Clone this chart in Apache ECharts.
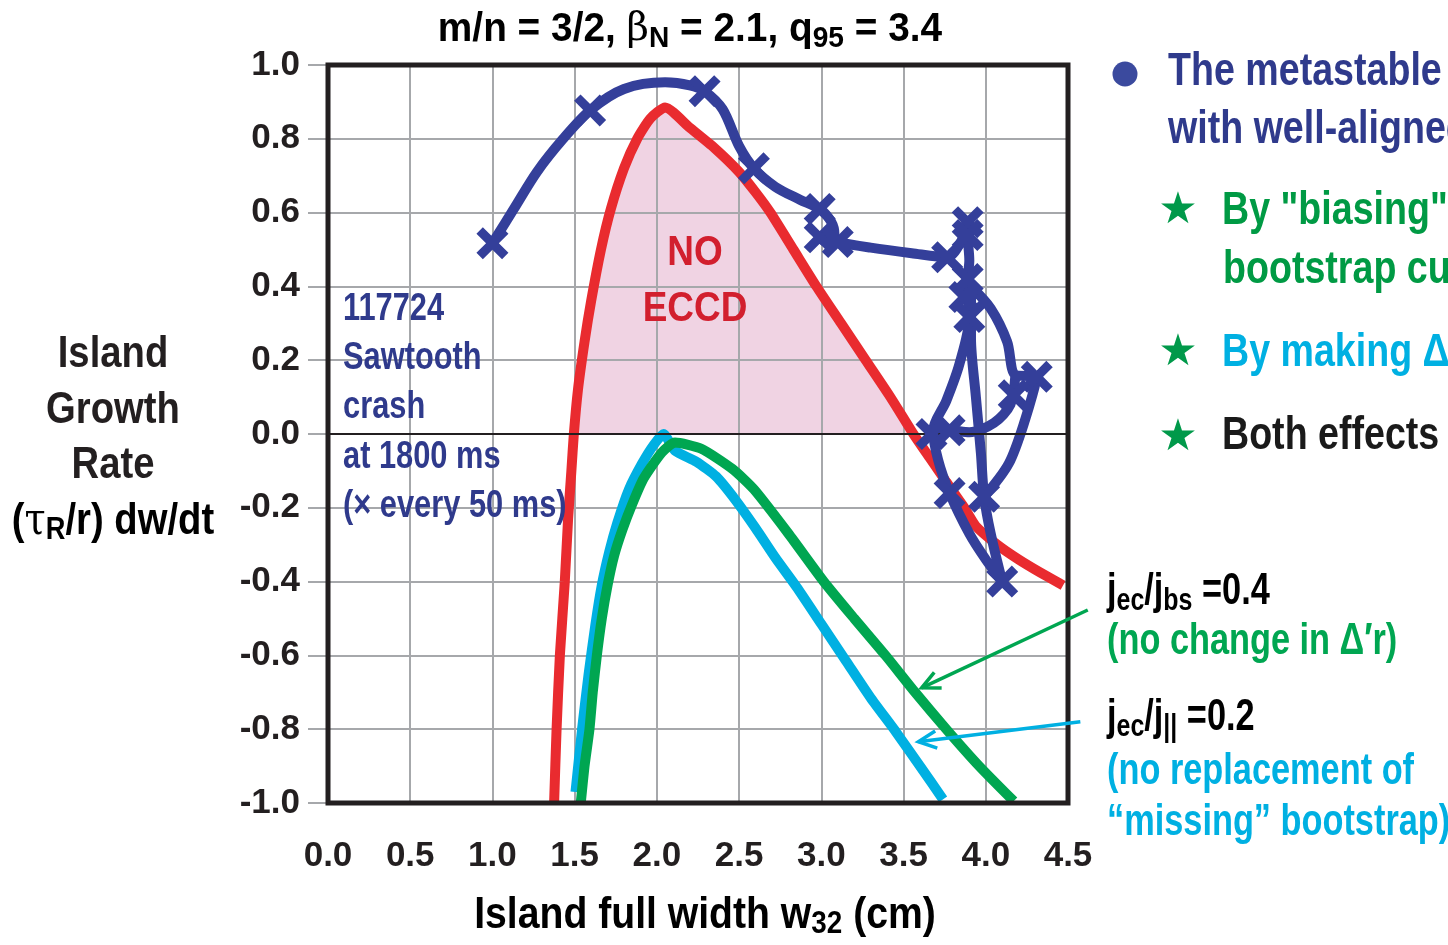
<!DOCTYPE html>
<html><head><meta charset="utf-8">
<script src="https://cdn.jsdelivr.net/npm/echarts@6.0.0/dist/echarts.min.js"></script>
<style>html,body{margin:0;padding:0;background:#fff;overflow:hidden}#chart{width:1448px;height:945px}</style>
</head><body><div id="chart"></div>
<script>
// ---------------- data ----------------
const xTicks = [0, 0.5, 1, 1.5, 2, 2.5, 3, 3.5, 4, 4.5];
const yTicks = [-1, -0.8, -0.6, -0.4, -0.2, 0, 0.2, 0.4, 0.6, 0.8, 1];

// red: no ECCD
const noEccd = [[1.375,-1.0],[1.39,-0.8],[1.41,-0.6],[1.44,-0.4],[1.46,-0.23],[1.48,-0.1],[1.495,0.0],[1.52,0.12],[1.56,0.25],[1.60,0.36],[1.66,0.5],[1.72,0.61],[1.80,0.72],[1.88,0.8],[1.96,0.855],[2.05,0.885],[2.2,0.83],[2.35,0.775],[2.5,0.71],[2.6,0.655],[2.69,0.6],[2.83,0.5],[2.97,0.4],[3.12,0.3],[3.27,0.2],[3.42,0.1],[3.56,0.0],[3.66,-0.065],[3.76,-0.13],[3.87,-0.2],[3.94,-0.25],[4.07,-0.3],[4.2,-0.34],[4.33,-0.375],[4.47,-0.41]];

// green: jec/jbs = 0.4
const jecBs04 = [[1.537,-1.0],[1.56,-0.9],[1.59,-0.8],[1.61,-0.7],[1.635,-0.6],[1.665,-0.5],[1.70,-0.41],[1.74,-0.33],[1.79,-0.26],[1.85,-0.19],[1.92,-0.12],[2.03,-0.05],[2.11,-0.023],[2.27,-0.04],[2.46,-0.095],[2.59,-0.15],[2.8,-0.27],[3.015,-0.4],[3.2,-0.5],[3.39,-0.6],[3.57,-0.7],[3.76,-0.8],[3.96,-0.9],[4.17,-0.995]];

// cyan: jec/j|| = 0.2
const jecPar02 = [[1.505,-0.97],[1.545,-0.8],[1.585,-0.65],[1.625,-0.52],[1.665,-0.41],[1.71,-0.32],[1.76,-0.24],[1.83,-0.15],[1.91,-0.08],[1.98,-0.03],[2.04,0.0],[2.11,-0.045],[2.24,-0.075],[2.36,-0.115],[2.48,-0.18],[2.6,-0.255],[2.72,-0.335],[2.85,-0.415],[3.0,-0.515],[3.15,-0.615],[3.3,-0.715],[3.45,-0.805],[3.6,-0.9],[3.74,-0.99]];

// blue: shot 117724 trajectory ('-' = break)
const shotTrack = [[1.0,0.517],[1.13,0.61],[1.27,0.71],[1.43,0.8],[1.594,0.877],[1.8,0.935],[2.05,0.953],[2.2,0.945],[2.29,0.929],[2.4,0.88],[2.5,0.78],[2.59,0.72],[2.72,0.67],[2.87,0.635],[2.99,0.61],[3.06,0.575],[3.08,0.54],[3.03,0.52],[2.99,0.533],[3.04,0.53],[3.1,0.52],[3.3,0.505],[3.55,0.49],[3.765,0.479],[3.86,0.53],[3.89,0.574],[3.89,0.539],[3.9,0.47],[3.89,0.42],[3.89,0.371],[3.9,0.317],[3.84,0.19],[3.76,0.09],[3.68,0.01],[3.71,-0.07],[3.78,-0.16],[3.9,-0.27],[4.0,-0.34],[4.1,-0.40],[4.03,-0.27],[3.99,-0.17],[3.97,-0.05],[3.94,0.1],[3.91,0.26],[3.91,0.4],[4.03,0.34],[4.13,0.25],[4.18,0.16],[4.31,0.155],[4.24,0.04],[4.14,-0.08],[3.99,-0.17],['-','-'],[4.18,0.16],[4.15,0.08],[4.05,0.03],[3.9,0.005],[3.78,0.01],[3.67,0.0]];
// blue: samples every 50 ms
const shotSamples = [[1.0,0.517],[1.594,0.877],[2.29,0.929],[2.59,0.72],[2.99,0.61],[2.99,0.533],[3.1,0.52],[3.765,0.479],[3.89,0.574],[3.89,0.539],[3.89,0.42],[3.87,0.371],[3.9,0.317],[4.31,0.155],[4.17,0.105],[3.67,0.0],[3.78,0.01],[3.78,-0.16],[3.99,-0.17],[4.1,-0.40]];

// annotation arrows [tail, tip] in data units
const arrowGreen = [[4.62,-0.477],[3.61,-0.688]];
const arrowCyan = [[4.575,-0.78],[3.59,-0.834]];

// ---------------- style ----------------
const F = "'Liberation Sans',Arial,sans-serif";
const C = {blue:'#343f9a', blueTxt:'#2f3a8c', red:'#e92b2f', redTxt:'#d21f2e', green:'#00a651', cyan:'#00b0e2', pink:'#f0d3e3', grid:'#a6a8ab', ink:'#231f20', star:'#00994a'};
const fmt = v => (Math.abs(v) < 1e-9 ? 0 : v).toFixed(1);

const chart = echarts.init(document.getElementById('chart'), null, {renderer:'canvas'});
const xPath = 'path://M0,2 L2,0 L5,3 L8,0 L10,2 L7,5 L10,8 L8,10 L5,7 L2,10 L0,8 L3,5 Z';

const option = {
  animation: false,
  backgroundColor: '#fff',
  grid: {left: 328, top: 65, right: 380, bottom: 142, show: true, borderColor: C.ink, borderWidth: 5, backgroundColor: 'transparent', z: 10},
  xAxis: {type: 'value', min: 0, max: 4.5, interval: 0.5, z: 1.5,
    axisLine: {show: false},
    axisTick: {show: true, length: 17, lineStyle: {color: C.grid, width: 2}},
    splitLine: {show: true, lineStyle: {color: C.grid, width: 2}},
    axisLabel: {margin: 36, formatter: v => fmt(v), color: C.ink, fontFamily: F, fontWeight: 'bold', fontSize: 35}},
  yAxis: {type: 'value', min: -1, max: 1, interval: 0.2, z: 1.5,
    axisLine: {show: false},
    axisTick: {show: true, length: 20, lineStyle: {color: C.grid, width: 2}},
    splitLine: {show: true, lineStyle: {color: C.grid, width: 2}},
    axisLabel: {margin: 28, formatter: v => fmt(v), color: C.ink, fontFamily: F, fontWeight: 'bold', fontSize: 35}},
  series: [
    {type: 'line', name: 'fill', data: noEccd.filter(p => p[1] >= 0), symbol: 'none', z: 1, silent: true,
     lineStyle: {width: 0}, areaStyle: {color: C.pink, opacity: 1, origin: 0},
     markLine: {silent: true, symbol: 'none', label: {show: false}, lineStyle: {color: C.ink, width: 2, type: 'solid'}, data: [{yAxis: 0}]}},
    {type: 'line', name: 'No ECCD', data: noEccd, symbol: 'none', smooth: 0.2, z: 3, lineStyle: {color: C.red, width: 10}},
    {type: 'line', name: 'jec/j|| = 0.2', data: jecPar02, symbol: 'none', smooth: 0.2, z: 3, lineStyle: {color: C.cyan, width: 10}},
    {type: 'line', name: 'jec/jbs = 0.4', data: jecBs04, symbol: 'none', smooth: 0.2, z: 3, lineStyle: {color: C.green, width: 10}},
    {type: 'line', name: '117724', data: shotTrack, symbol: 'none', smooth: 0.3, connectNulls: false, z: 4, lineStyle: {color: C.blue, width: 10}},
    {type: 'scatter', name: 'samples', data: shotSamples, symbol: xPath, symbolSize: 32, z: 5, itemStyle: {color: C.blue, opacity: 1}}
  ]
};
chart.setOption(option);

// -------------- annotations --------------
function rich(size, color) {
  const L = size;
  return {
    t: {fontSize: size, fontFamily: F, fontWeight: 'bold', color, lineHeight: L, verticalAlign: 'top'},
    s: {fontSize: Math.round(size * 0.72), fontFamily: F, fontWeight: 'bold', color, lineHeight: L, verticalAlign: 'top', padding: [Math.round(size * 0.34), 0, 0, 0]},
    g: {fontSize: size, fontFamily: "'DejaVu Serif',serif", fontWeight: 'normal', color, lineHeight: L, verticalAlign: 'top'}
  };
}
function rtext(x, yc, str, size, color, align, sx) {
  return {type: 'text', x, y: yc - size / 2, z: 20, scaleX: sx || 1, style: {text: str, rich: rich(size, color), align: align || 'left', verticalAlign: 'top'}};
}
function text(x, yc, str, size, color, align, sx, family) {
  return {type: 'text', x, y: yc, z: 20, scaleX: sx || 1, style: {text: str, fill: color, fontSize: size, fontFamily: family || F, fontWeight: 'bold', align: align || 'left', verticalAlign: 'middle'}};
}
function arrow(pair, color) {
  const a = chart.convertToPixel({gridIndex: 0}, pair[0]);
  const b = chart.convertToPixel({gridIndex: 0}, pair[1]);
  const ang = Math.atan2(a[1] - b[1], a[0] - b[0]);
  const len = 20, spread = 0.45;
  const h1 = [b[0] + len * Math.cos(ang + spread), b[1] + len * Math.sin(ang + spread)];
  const h2 = [b[0] + len * Math.cos(ang - spread), b[1] + len * Math.sin(ang - spread)];
  return [
    {type: 'line', z: 20, shape: {x1: a[0], y1: a[1], x2: b[0], y2: b[1]}, style: {stroke: color, lineWidth: 3.5}},
    {type: 'polyline', z: 20, shape: {points: [h1, b, h2]}, style: {stroke: color, lineWidth: 3.5, fill: null}}
  ];
}

const SY = 0.85, SB = 0.79, SR = 0.8, SA = 0.78;
const graphics = [
  rtext(690, 30, '{t|m/n = 3/2, }{g|β}{s|N}{t| = 2.1, q}{s|95}{t| = 3.4}', 40, C.ink, 'center', 0.97),
  text(113, 355, 'Island', 45, C.ink, 'center', SY),
  text(113, 411, 'Growth', 45, C.ink, 'center', SY),
  text(113, 466, 'Rate', 45, C.ink, 'center', SY),
  rtext(113, 522, '{t|(}{g|τ}{s|R}{t|/r) dw/dt}', 45, C.ink, 'center', SY),
  rtext(705, 916, '{t|Island full width w}{s|32}{t| (cm)}', 45, C.ink, 'center', 0.87),
  text(343, 309, '117724', 39, C.blueTxt, 'left', SB),
  text(343, 358, 'Sawtooth', 39, C.blueTxt, 'left', SB),
  text(343, 407, 'crash', 39, C.blueTxt, 'left', SB),
  text(343, 457, 'at 1800 ms', 39, C.blueTxt, 'left', SB),
  text(343, 506, '(× every 50 ms)', 39, C.blueTxt, 'left', SB),
  text(695, 253, 'NO', 42, C.redTxt, 'center', 0.88),
  text(695, 309, 'ECCD', 42, C.redTxt, 'center', 0.88),
  {type: 'circle', z: 20, shape: {cx: 1125, cy: 74, r: 12.5}, style: {fill: '#3b4a9e'}},
  text(1168, 72, 'The metastable 3/2 NTM', 47, C.blueTxt, 'left', SR),
  text(1168, 130, 'with well-aligned ECCD', 47, C.blueTxt, 'left', SR),
  text(1178, 212, '★', 44, C.star, 'center', 1, "'DejaVu Sans',sans-serif"),
  text(1222, 211, 'By "biasing" the', 47, '#009a44', 'left', SR),
  text(1223, 270, 'bootstrap current', 47, '#009a44', 'left', SR),
  text(1178, 354, '★', 44, C.star, 'center', 1, "'DejaVu Sans',sans-serif"),
  text(1222, 353, 'By making Δ′r', 47, C.cyan, 'left', SR),
  text(1178, 439, '★', 44, C.star, 'center', 1, "'DejaVu Sans',sans-serif"),
  text(1222, 436, 'Both effects', 47, '#1a1a1a', 'left', SR),
  rtext(1107, 592, '{t|j}{s|ec}{t|/j}{s|bs}{t| =0.4}', 44, C.green, 'left', SA),
  text(1107, 642, '(no change in Δ′r)', 44, C.green, 'left', SA),
  rtext(1107, 718, '{t|j}{s|ec}{t|/j}{s|||}{t| =0.2}', 44, C.cyan, 'left', SA),
  text(1107, 772, '(no replacement of', 44, C.cyan, 'left', SA),
  text(1107, 823, '“missing” bootstrap)', 44, C.cyan, 'left', SA),
  ...arrow(arrowGreen, C.green),
  ...arrow(arrowCyan, C.cyan)
];
chart.setOption({graphic: graphics});
</script></body></html>
